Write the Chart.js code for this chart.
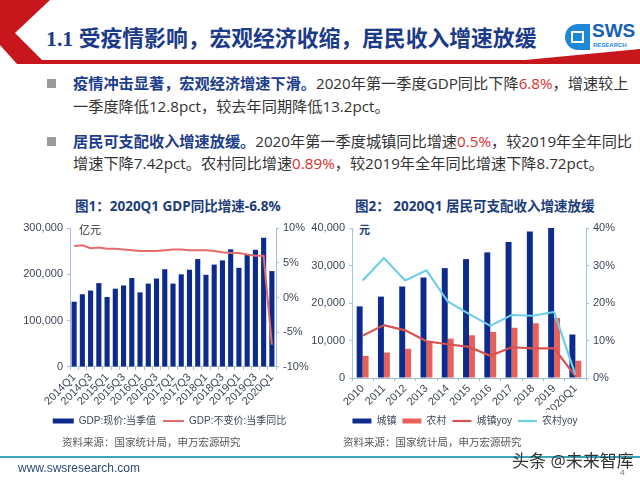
<!DOCTYPE html>
<html><head><meta charset="utf-8">
<script src="https://cdn.jsdelivr.net/npm/chart.js@4/dist/chart.umd.min.js"></script>
<style>
html,body{margin:0;padding:0;background:#fff;}
#page{position:relative;width:640px;height:480px;overflow:hidden;background:#fff;font-family:"Open Sans","Noto Sans CJK SC",sans-serif;}
.abs{position:absolute;white-space:nowrap;}
#title{left:46px;top:21px;font-size:21.8px;font-weight:bold;color:#1B3A8A;font-family:"Liberation Serif","Noto Sans CJK SC",serif;}
.bul{position:absolute;left:47px;width:9px;height:9px;background:#9A9A9A;}
.txt{position:absolute;left:73px;font-size:15.2px;color:#333;white-space:nowrap;line-height:20px;font-family:"Open Sans","Noto Sans CJK SC",sans-serif;}
.b{font-weight:bold;color:#1C3C8C;}
.r{color:#D9302C;}
.ct{position:absolute;font-size:13.5px;font-weight:bold;color:#1C3C7C;white-space:nowrap;font-family:"Open Sans","Noto Sans CJK SC",sans-serif;}
.src{position:absolute;font-size:10.5px;color:#555;white-space:nowrap;}
.unit{position:absolute;font-size:11px;color:#333;}
canvas{position:absolute;}
</style></head>
<body><div id="page">
<svg class="abs" style="left:0;top:0" width="640" height="70">
<polygon points="0,0 50,0 15,33 42,60 640,60 640,64 17,64 0,45" fill="#C8161D"/>
<polygon points="525,60 640,49 640,64 525,64" fill="#C8161D"/>
</svg>
<div id="title" class="abs">1.1 受疫情影响，宏观经济收缩，居民收入增速放缓</div>
<svg class="abs" style="left:562px;top:22px" width="32" height="30">
<path d="M16 2 A13 13 0 1 0 16 28 L28 28 L28 2 Z" fill="#1E88D8"/>
<rect x="9" y="9" width="13" height="12" fill="#fff"/>
<rect x="11" y="11" width="9" height="8" fill="#1E88D8"/>
</svg>
<div class="abs" style="left:592px;top:20px;font-size:19px;font-weight:bold;color:#1560B8;font-family:'Liberation Sans',sans-serif;">SWS</div>
<div class="abs" style="left:593px;top:42px;font-size:6px;font-weight:bold;color:#1E88D8;font-family:'Liberation Sans',sans-serif;">RESEARCH</div>

<div class="bul" style="top:79px"></div>
<div class="txt" style="top:73px"><span class="b">疫情冲击显著，宏观经济增速下滑。</span>2020年第一季度GDP同比下降<span class="r">6.8%</span>，增速较上</div>
<div class="txt" style="top:96px">一季度降低12.8pct，较去年同期降低13.2pct。</div>
<div class="bul" style="top:137px"></div>
<div class="txt" style="top:131px"><span class="b">居民可支配收入增速放缓。</span>2020年第一季度城镇同比增速<span class="r">0.5%</span>，较2019年全年同比</div>
<div class="txt" style="top:153px">增速下降7.42pct。农村同比增速<span class="r">0.89%</span>，较2019年全年同比增速下降8.72pct。</div>

<div class="ct" style="left:75px;top:195px">图1：2020Q1 GDP同比增速-6.8%</div>
<div class="ct" style="left:355px;top:195px">图2： 2020Q1 居民可支配收入增速放缓</div>
<div class="unit" style="left:79px;top:221px">亿元</div>
<div class="unit" style="left:359px;top:221px;font-weight:bold;color:#1C3C7C">元</div>

<canvas id="c1" width="305" height="222" style="left:12px;top:214px"></canvas>
<canvas id="c2" width="330" height="222" style="left:300px;top:214px"></canvas>

<div class="src" style="left:62px;top:434px">资料来源：国家统计局，申万宏源研究</div>
<div class="src" style="left:343px;top:434px">资料来源：国家统计局，申万宏源研究</div>

<div class="abs" style="left:0;top:456px;width:640px;height:2px;background:#3AA6B9"></div>
<div class="abs" style="left:18px;top:461px;font-size:12px;color:#2F4A7A;font-family:'Liberation Sans',sans-serif;">www.swsresearch.com</div>
<div class="abs" style="left:512px;top:447px;font-size:17px;color:#333;">头条 @未来智库</div>
<div class="abs" style="left:620px;top:466px;font-size:8px;color:#666;">4</div>
</div>
<script>
const quarters = ['2014Q1','2014Q2','2014Q3','2014Q4','2015Q1','2015Q2','2015Q3','2015Q4','2016Q1','2016Q2','2016Q3','2016Q4','2017Q1','2017Q2','2017Q3','2017Q4','2018Q1','2018Q2','2018Q3','2018Q4','2019Q1','2019Q2','2019Q3','2019Q4','2020Q1'];
const gdpNominal = [140900,157000,165000,181000,151000,169000,176000,192000,161000,180000,191000,211000,180000,200000,210000,233000,199000,221000,230000,254000,214000,243000,253000,279000,207000];
const gdpYoy = [7.4,7.5,7.1,7.2,7.0,7.0,6.9,6.8,6.7,6.7,6.7,6.8,6.9,6.9,6.8,6.8,6.8,6.7,6.5,6.4,6.4,6.2,6.0,6.0,-6.8];

const years = ['2010','2011','2012','2013','2014','2015','2016','2017','2018','2019','2020Q1'];
const urbanIncome = [19100,21700,24400,26800,29300,31700,33500,36300,39100,40000,11600];
const ruralIncome = [5900,6800,7800,9700,10500,11400,12300,13400,14600,16000,4600];
const urbanYoy = [11.3,14.1,12.7,9.8,9.0,8.3,5.9,8.2,7.9,7.9,0.5];
const ruralYoy = [26.0,32.0,26.0,28.7,20.4,17.1,13.9,16.8,16.6,17.6,0.9];

const NAVY='#0C2B8C', tickCol='#3E4757', axisCol='#A9C0DC';
const tickFont={family:"'Liberation Sans','Noto Sans CJK SC',sans-serif",size:11};
const legFont={family:"'Liberation Sans','Noto Sans CJK SC',sans-serif",size:10};
const fmt = v => v.toLocaleString('en-US');

function yAxis(pos,min,max,step,cb,width,col){
  return {position:pos,min:min,max:max,
    border:{display:true,color:col,width:1},
    grid:{display:true,drawOnChartArea:false,drawTicks:true,tickLength:3,color:col},
    ticks:{stepSize:step,callback:cb,color:tickCol,font:tickFont,padding:4},
    afterFit:s=>{s.width=width;}};
}
function legendOpts(pw,pad){
  return {position:'bottom',labels:{usePointStyle:true,pointStyleWidth:pw,boxHeight:5,color:tickCol,font:legFont,padding:pad,
    sort:(a,b)=>a.datasetIndex-b.datasetIndex}};
}

new Chart(document.getElementById('c1'),{
  data:{labels:quarters,datasets:[
    {type:'bar',label:'GDP:现价:当季值',data:gdpNominal,backgroundColor:NAVY,yAxisID:'y',
     barPercentage:0.62,categoryPercentage:1.0,pointStyle:'rect',order:2},
    {type:'line',label:'GDP:不变价:当季同比',data:gdpYoy,borderColor:'#E36B6B',borderWidth:2,
     pointRadius:0,tension:0,yAxisID:'y1',pointStyle:'line',order:1}
  ]},
  options:{responsive:false,animation:false,
    layout:{padding:{top:14,left:10,right:0,bottom:0}},
    plugins:{legend:legendOpts(21,7),tooltip:{enabled:false}},
    scales:{
      x:{border:{display:true,color:axisCol},
        grid:{display:true,drawOnChartArea:false,tickLength:3,color:axisCol,offset:true},
        ticks:{autoSkip:false,maxRotation:45,minRotation:45,color:tickCol,font:tickFont,padding:1,
          callback:function(v,i){return i%2===0?quarters[i]:'';}}},
      y:yAxis('left',0,300000,100000,v=>fmt(v),48,axisCol),
      y1:yAxis('right',-10,10,5,v=>v+'%',41,axisCol)
    }}
});

new Chart(document.getElementById('c2'),{
  data:{labels:years,datasets:[
    {type:'bar',label:'城镇',data:urbanIncome,backgroundColor:NAVY,yAxisID:'y',
     barPercentage:1.0,categoryPercentage:0.56,pointStyle:'rect',order:2},
    {type:'bar',label:'农村',data:ruralIncome,backgroundColor:'#E8605A',yAxisID:'y',
     barPercentage:1.0,categoryPercentage:0.56,pointStyle:'rect',order:2},
    {type:'line',label:'城镇yoy',data:urbanYoy,borderColor:'#D9514E',borderWidth:2.2,
     pointRadius:0,tension:0,yAxisID:'y1',pointStyle:'line',order:1},
    {type:'line',label:'农村yoy',data:ruralYoy,borderColor:'#6CCFE6',borderWidth:2.2,
     pointRadius:0,tension:0,yAxisID:'y1',pointStyle:'line',order:0}
  ]},
  options:{responsive:false,animation:false,
    layout:{padding:{top:14,left:0,right:0,bottom:0}},
    plugins:{legend:legendOpts(19,6),tooltip:{enabled:false}},
    scales:{
      x:{border:{display:true,color:'#9DBBD0'},
        grid:{display:true,drawOnChartArea:false,tickLength:3,color:'#9DBBD0',offset:true},
        ticks:{autoSkip:false,maxRotation:45,minRotation:45,color:tickCol,font:tickFont,padding:1},
        afterFit:s=>{s.height=32;}},
      y:yAxis('left',0,40000,10000,v=>fmt(v),52,'#9DCBDD'),
      y1:yAxis('right',0,40,10,v=>v+'%',44,'#9DCBDD')
    }}
});
</script>
</body></html>
